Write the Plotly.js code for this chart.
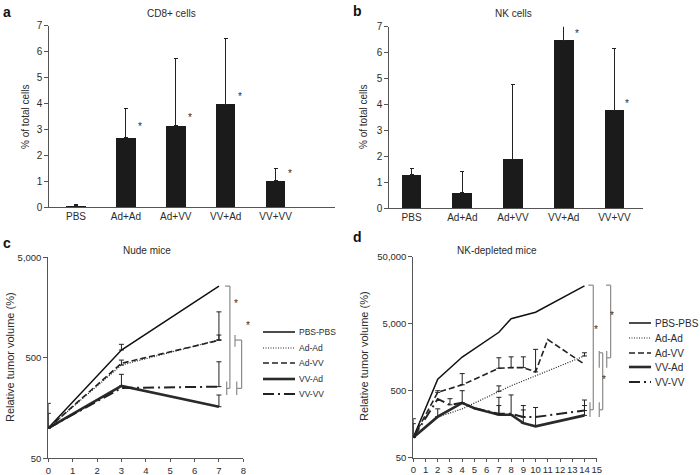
<!DOCTYPE html>
<html><head><meta charset="utf-8">
<script src="https://cdn.plot.ly/plotly-3.0.1.min.js"></script>
<style>html,body{margin:0;padding:0;background:#fff}</style>
</head><body><div id="chart" style="width:700px;height:475px"></div>
<script>
// ---------- data: panels a and b ----------
const groups = ['PBS','Ad+Ad','Ad+VV','VV+Ad','VV+VV'];
const cd8Mean = [0.05, 2.68, 3.13, 3.97, 1.02];
const cd8Err  = [0.06, 1.14, 2.60, 2.55, 0.45];
const cd8Star = [null, 3.1, 3.45, 4.25, 1.28];
const nkMean  = [1.3, 0.6, 1.9, 6.47, 3.78];
const nkErr   = [0.23, 0.8, 2.87, 0.73, 2.37];
const nkStar  = [null, null, null, 6.75, 4.05];

// ---------- data: panel c (nude mice) ----------
const seriesNames = ['PBS-PBS','Ad-Ad','Ad-VV','VV-Ad','VV-VV'];
const nudeDays   = [0, 3, 7];
const nudePBS    = [100, 597, 2580];
const nudePBSTop = [null, 680, null];
const nudeAdAd   = [100, 423, 755];
const nudeAdAdTop= [null, 474, 841];
const nudeAdVV   = [100, 440, 745];
const nudeAdVVTop= [null, null, 1430];
const nudeVVAd   = [100, 262, 163];
const nudeVVAdTop= [140, 342, 213];
const nudeVVVV   = [100, 250, 258];
const nudeVVVVTop= [176, null, 456];

// ---------- data: panel d (NK-depleted mice) ----------
const depPBSDays  = [0, 2, 4, 7, 8, 9, 10, 14];
const depPBS      = [100, 740, 1590, 3720, 5930, 6700, 7420, 18400];
const depPBSTop   = [null, null, null, null, null, null, null, null];
const depAdAdDays = [0, 2, 4, 7, 8, 10, 14];
const depAdAd     = [100, 202, 268, 490, 593, 832, 1650];
const depAdAdTop  = [null, null, null, 590, null, null, 1840];
const depAdVVDays = [0, 2, 4, 7, 8, 9, 10, 11, 14];
const depAdVV     = [100, 472, 613, 1080, 1105, 1105, 955, 2900, 1240];
const depAdVVTop  = [null, 500, 900, 1550, 1600, 1600, 2070, null, null];
const depVVAdDays = [0, 2, 4, 5, 7, 8, 9, 10, 14];
const depVVAd     = [100, 205, 329, 274, 219, 219, 164, 147, 214];
const depVVAdTop  = [161, 268, 500, null, 300, 432, 258, 281, 300];
const depVVVVDays = [0, 2, 3, 4, 5, 7, 8, 9, 10, 14];
const depVVVV     = [100, 377, 308, 329, 274, 226, 226, 202, 202, 253];
const depVVVVTop  = [191, null, 380, null, null, 398, null, 300, null, 363];

// ---------- styles ----------
const FONT = 'Liberation Sans, Arial, sans-serif';
const TXT = '#2b2b2b';
const lineStyles = [
  {color:'#111', width:1.5, dash:'solid'},
  {color:'#222', width:1.2, dash:'1px,1.5px'},
  {color:'#222', width:1.6, dash:'6px,3px'},
  {color:'#2a2a2a', width:2.6, dash:'solid'},
  {color:'#222', width:2, dash:'11px,4px,2px,4px'}
];

// geometry (paper domains)
const W = 700, H = 475;
const geo = {
  a: {xd:[49.3/W, 335/W], yd:[(H-207)/H, (H-25.7)/H]},
  b: {xd:[389.3/W, 643.3/W], yd:[(H-208.3)/H, (H-26.7)/H]},
  c: {xd:[48.3/W, 243.3/W], yd:[(H-458.3)/H, (H-257.2)/H], xr:[0,8], yr:[Math.log10(50), Math.log10(5000)]},
  d: {xd:[413.3/W, 596.7/W], yd:[(H-457.7)/H, (H-256.7)/H], xr:[0,15], yr:[Math.log10(50), Math.log10(50000)]}
};
function px(g, x){ return g.xd[0] + (x - g.xr[0])/(g.xr[1]-g.xr[0])*(g.xd[1]-g.xd[0]); }
function py(g, v){ return g.yd[0] + (Math.log10(v) - g.yr[0])/(g.yr[1]-g.yr[0])*(g.yd[1]-g.yd[0]); }

function upErr(vals, tops){
  return {
    type:'data', symmetric:false,
    array: tops.map((t,i)=> t==null ? NaN : t - vals[i]),
    arrayminus: tops.map(t=> t==null ? NaN : 0),
    color:'#222', thickness:1, width:2.5
  };
}

const traces = [];
traces.push({type:'bar', x:groups, y:cd8Mean, xaxis:'x', yaxis:'y', width:0.39,
  marker:{color:'#1b1b1b'}, showlegend:false,
  error_y:{type:'data', symmetric:false, array:cd8Err, arrayminus:cd8Err.map(()=>0), color:'#222', thickness:1, width:2}});
traces.push({type:'bar', x:groups, y:nkMean, xaxis:'x2', yaxis:'y2', width:0.39,
  marker:{color:'#1b1b1b'}, showlegend:false,
  error_y:{type:'data', symmetric:false, array:nkErr, arrayminus:nkErr.map(()=>0), color:'#222', thickness:1, width:2}});

const nudeSets = [[nudePBS,nudePBSTop],[nudeAdAd,nudeAdAdTop],[nudeAdVV,nudeAdVVTop],[nudeVVAd,nudeVVAdTop],[nudeVVVV,nudeVVVVTop]];
nudeSets.forEach((s,i)=>{
  traces.push({type:'scatter', mode:'lines', x:nudeDays, y:s[0], xaxis:'x3', yaxis:'y3',
    name:seriesNames[i], showlegend:false, line:lineStyles[i], error_y:upErr(s[0], s[1])});
});
const depSets = [[depPBSDays,depPBS,depPBSTop],[depAdAdDays,depAdAd,depAdAdTop],[depAdVVDays,depAdVV,depAdVVTop],[depVVAdDays,depVVAd,depVVAdTop],[depVVVVDays,depVVVV,depVVVVTop]];
depSets.forEach((s,i)=>{
  traces.push({type:'scatter', mode:'lines', x:s[0], y:s[1], xaxis:'x4', yaxis:'y4',
    name:seriesNames[i], showlegend:false, line:lineStyles[i], error_y:upErr(s[1], s[2])});
});

const axisBase = {showline:true, linecolor:'#555', linewidth:1, ticks:'outside', ticklen:4, tickcolor:'#555',
  showgrid:false, zeroline:false, fixedrange:true, tickangle:0,
  tickfont:{family:FONT, size:10, color:TXT}};

const layout = {
  width:W, height:H, margin:{l:0,r:0,t:0,b:0}, paper_bgcolor:'#fff', plot_bgcolor:'rgba(0,0,0,0)',
  showlegend:false, bargap:0,
  xaxis: Object.assign({}, axisBase, {domain:geo.a.xd, anchor:'y', type:'category', range:[-0.535,5.19], ticks:''}),
  yaxis: Object.assign({}, axisBase, {domain:geo.a.yd, anchor:'x', range:[0,7], dtick:1}),
  xaxis2: Object.assign({}, axisBase, {domain:geo.b.xd, anchor:'y2', type:'category', range:[-0.44,4.57], ticks:''}),
  yaxis2: Object.assign({}, axisBase, {domain:geo.b.yd, anchor:'x2', range:[0,7], dtick:1}),
  xaxis3: Object.assign({}, axisBase, {domain:geo.c.xd, anchor:'y3', range:geo.c.xr, dtick:1, ticklen:3,
    tickfont:{family:FONT, size:9.5, color:TXT}}),
  yaxis3: Object.assign({}, axisBase, {domain:geo.c.yd, anchor:'x3', type:'log', range:geo.c.yr,
    tickvals:[50,500,5000], ticktext:['50','500','5,000'], tickfont:{family:FONT, size:9.5, color:TXT}}),
  xaxis4: Object.assign({}, axisBase, {domain:geo.d.xd, anchor:'y4', range:geo.d.xr, dtick:1, ticklen:3,
    tickfont:{family:FONT, size:9.5, color:TXT}}),
  yaxis4: Object.assign({}, axisBase, {domain:geo.d.yd, anchor:'x4', type:'log', range:geo.d.yr,
    tickvals:[50,500,5000,50000], ticktext:['50','500','5,000','50,000'], tickfont:{family:FONT, size:9.5, color:TXT}}),
  annotations:[], shapes:[]
};

const A = layout.annotations, S = layout.shapes;
function txt(xpx, ypx, text, opts){
  A.push(Object.assign({xref:'paper', yref:'paper', x:xpx/W, y:1-ypx/H, text:text, showarrow:false,
    xanchor:'center', yanchor:'middle', font:{family:FONT, size:10, color:TXT}}, opts||{}));
}
// panel letters
txt(1, 12, '<b>a</b>', {xanchor:'left', font:{family:FONT, size:14, color:'#111'}});
txt(351, 11, '<b>b</b>', {xanchor:'left', font:{family:FONT, size:14, color:'#111'}});
txt(1, 243, '<b>c</b>', {xanchor:'left', font:{family:FONT, size:14, color:'#111'}});
txt(351, 237, '<b>d</b>', {xanchor:'left', font:{family:FONT, size:14, color:'#111'}});
// titles
txt(171, 13, 'CD8+ cells');
txt(513, 13, 'NK cells');
txt(147, 250, 'Nude mice');
txt(497, 250, 'NK-depleted mice');
// y titles
txt(25, 117, '% of total cells', {textangle:-90});
txt(363, 117, '% of total cells', {textangle:-90});
txt(10, 357, 'Relative tumor volume (%)', {textangle:-90, font:{family:FONT, size:11, color:TXT}});
txt(364, 356, 'Relative tumor volume (%)', {textangle:-90, font:{family:FONT, size:11, color:TXT}});

// stars on bar charts
cd8Star.forEach((v,i)=>{ if(v!=null) A.push({xref:'x', yref:'y', x:i, y:v, text:'*', showarrow:false, xshift:14,
  font:{family:FONT, size:10, color:TXT}}); });
nkStar.forEach((v,i)=>{ if(v!=null) A.push({xref:'x2', yref:'y2', x:i, y:v, text:'*', showarrow:false, xshift:13,
  font:{family:FONT, size:10, color:TXT}}); });

// brackets
const BR = {color:'#8a8a8a', width:1.2};
function seg(x0,y0,x1,y1){ S.push({type:'line', xref:'paper', yref:'paper', x0:x0, y0:y0, x1:x1, y1:y1, line:BR}); }
function bracket(g, xm, vTop, vBot, top, bot){
  seg(px(g,xm), py(g,vTop), px(g,xm), py(g,vBot));
  [[top,vTop],[bot,vBot]].forEach(([e,v])=>{
    seg(px(g,e.x), py(g,v), px(g,xm), py(g,v));
    if(e.v0) seg(px(g,e.x), py(g,e.v0), px(g,e.x), py(g,e.v1));
  });
}
function star(g, x, v){ A.push({xref:'paper', yref:'paper', x:px(g,x), y:py(g,v), text:'*', showarrow:false,
  font:{family:FONT, size:10, color:TXT}}); }

// panel c brackets
bracket(geo.c, 7.45, 2580, 248, {x:7.25}, {x:7.32, v0:290, v1:213});
bracket(geo.c, 7.93, 750, 248, {x:7.66, v0:841, v1:643}, {x:7.73, v0:290, v1:213});
star(geo.c, 7.7, 1740);
star(geo.c, 8.2, 890);
// panel d brackets
bracket(geo.d, 14.72, 18800, 260, {x:14.31}, {x:14.45, v0:336, v1:202});
bracket(geo.d, 15.49, 1840, 260, {x:15.21, v0:1950, v1:1105}, {x:15.21, v0:336, v1:202});
bracket(geo.d, 16.14, 18800, 1550, {x:15.76}, {x:15.82, v0:1950, v1:1105});
star(geo.d, 16.58, 6630);
star(geo.d, 15.27, 3140);
star(geo.d, 15.95, 573);

// manual legends
function legend(rows, x0, x1, xt, fs){
  seriesNames.forEach((n,i)=>{
    const st = lineStyles[i];
    S.push({type:'line', xref:'paper', yref:'paper', x0:x0/W, x1:x1/W, y0:1-rows[i]/H, y1:1-rows[i]/H,
      line:{color:st.color, width:st.width, dash:st.dash}});
    txt(xt, rows[i], n, {xanchor:'left', font:{family:FONT, size:fs, color:TXT}});
  });
}
legend([332,348,363,379,394], 263, 295, 297, 8.5);
legend([323,338,353,367,382], 629, 651, 653, 10);

Plotly.newPlot('chart', traces, layout, {staticPlot:true, displayModeBar:false});
</script></body></html>
